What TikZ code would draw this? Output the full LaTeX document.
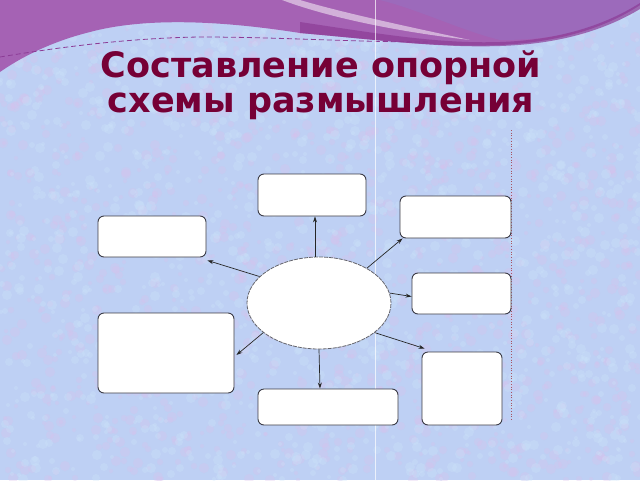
\documentclass[tikz,border=0pt]{standalone}
\usepackage{fontspec}
\setmainfont{DejaVu Sans}
\usetikzlibrary{shapes.geometric,arrows.meta}
\definecolor{bgblue}{RGB}{190,208,244}
\definecolor{bgpink}{RGB}{218,192,236}
\definecolor{bglight}{RGB}{205,228,250}
\definecolor{purp}{RGB}{165,98,180}
\definecolor{purpdark}{RGB}{140,60,150}
\definecolor{purpblue}{RGB}{150,112,192}
\definecolor{titlec}{RGB}{118,0,54}
\definecolor{boxline}{RGB}{60,60,70}
\tikzset{
  box/.style={draw=boxline,line width=0.9pt,fill=white,rounded corners=6pt,inner sep=0pt},
  ell/.style={ellipse,draw=boxline!80,dashed,dash pattern=on 4pt off 1pt,line width=0.8pt,fill=white,inner sep=0pt,minimum width=144pt,minimum height=92pt},
  arr/.style={-{Stealth[length=6pt,width=4pt]},line width=0.7pt,black!85},
  ttl/.style={text=titlec,font=\bfseries\fontsize{35}{38}\selectfont,align=center}
}
\begin{document}
\begin{tikzpicture}[x=1pt,y=-1pt]
\useasboundingbox (0,0) rectangle (640,480);
\clip (0,0) rectangle (640,480);
% background
\fill[bgblue] (0,0) rectangle (640,480);
\pgfmathsetseed{17}
\foreach \i in {1,...,1400}{
  \pgfmathsetmacro\xx{random(0,640)}
  \pgfmathsetmacro\yy{random(0,480)}
  \pgfmathsetmacro\rr{random(2,5)}
  \fill[bgpink,opacity=0.3] (\xx,\yy) circle (\rr);
}
\foreach \i in {1,...,1400}{
  \pgfmathsetmacro\xx{random(0,640)}
  \pgfmathsetmacro\yy{random(0,480)}
  \pgfmathsetmacro\rr{random(2,5)}
  \fill[bglight,opacity=0.3] (\xx,\yy) circle (\rr);
}
% purple wave
\fill[purp] (0,0) -- (640,0) -- (640,5)
  .. controls (605,28) and (560,42) .. (500,45)
  .. controls (440,48) and (380,40) .. (300,33)
  .. controls (230,22) and (150,16) .. (90,32)
  .. controls (50,42) and (20,58) .. (0,72) -- cycle;
\fill[purpblue,opacity=0.6] (380,0) -- (640,0) -- (640,5)
  .. controls (605,28) and (560,40) .. (500,40)
  .. controls (460,30) and (420,10) .. (380,0) -- cycle;
\fill[purpdark,opacity=0.7] (300,22) .. controls (380,34) and (440,44) .. (500,42)
  .. controls (560,40) and (605,25) .. (640,3) -- (640,9)
  .. controls (605,30) and (560,44) .. (500,46)
  .. controls (440,48) and (380,40) .. (300,33) -- cycle;
\fill[white,opacity=0.5] (282,0) -- (300,0) .. controls (340,12) and (400,25) .. (470,40)
  .. controls (400,32) and (330,18) .. (282,0) -- cycle;
\draw[purpdark,dashed,dash pattern=on 5pt off 3pt,line width=0.8pt]
  (0,57) .. controls (60,47) and (130,38) .. (200,37) .. controls (280,37) and (350,42) .. (430,42);
% faint lines
\draw[white,opacity=0.7,line width=0.8pt] (375,0) -- (375,480);
\draw[red!60!black,opacity=0.6,dotted,line width=0.7pt] (511,130) -- (511,420);
% title
\node[ttl] (t1) at (321,68) {Составление опорной};
\node[ttl] (t2) at (321,106) {схемы размышления};
% diagram
\node[ell] (e) at (319,303) {};
\node[box,minimum width=108pt,minimum height=42pt] (tb) at (312,195) {};
\node[box,minimum width=108pt,minimum height=41pt] (lt) at (152,236.5) {};
\node[box,minimum width=111pt,minimum height=42pt] (rt) at (455.5,217) {};
\node[box,minimum width=99pt,minimum height=41pt] (rm) at (461.5,293.5) {};
\node[box,minimum width=136pt,minimum height=80pt] (lb) at (166,353) {};
\node[box,minimum width=140pt,minimum height=36pt] (bb) at (328,407) {};
\node[box,minimum width=80pt,minimum height=73pt] (rb) at (462,388.5) {};
\draw[arr] ([xshift=-4pt]e.north) -- ([xshift=3pt]tb.south);
\draw[arr] (e.156) -- ([xshift=1pt,yshift=-3pt]lt.south east);
\draw[arr] (e.36) -- ([xshift=3pt]rt.south west);
\draw[arr] (e.8) -- ([yshift=-3pt]rm.west);
\draw[arr] (e.332) -- ([xshift=3pt,yshift=3pt]rb.north west);
\draw[arr] (e.208) -- ([xshift=2pt,yshift=-2pt]lb.east);
\draw[arr] (e.south) -- ([xshift=-8pt]bb.north);
\end{tikzpicture}
\end{document}
